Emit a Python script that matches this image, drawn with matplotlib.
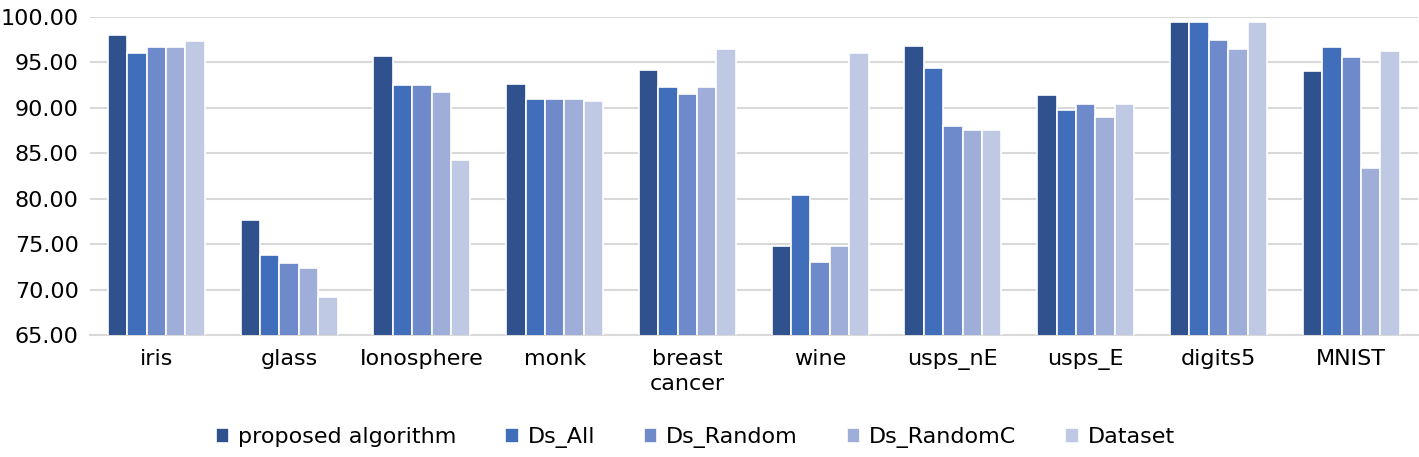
import numpy as np
import matplotlib
matplotlib.use('Agg')
import matplotlib.pyplot as plt

# datos
categorias = ['iris', 'glass', 'Ionosphere', 'monk', 'breast\ncancer', 'wine',
              'usps_nE', 'usps_E', 'digits5', 'MNIST']
series = ['proposed algorithm', 'Ds_All', 'Ds_Random', 'Ds_RandomC', 'Dataset']
propuesto  = [98.00, 77.60, 95.75, 92.64, 94.18, 74.76, 96.81, 91.43, 99.49, 94.07]
ds_all     = [96.00, 73.85, 92.56, 91.00, 92.27, 80.37, 94.40, 89.80, 99.49, 96.67]
ds_random  = [96.67, 72.90, 92.56, 91.00, 91.54, 73.04, 88.02, 90.40, 97.50, 95.64]
ds_randomc = [96.67, 72.40, 91.76, 91.00, 92.27, 74.76, 87.58, 89.00, 96.48, 83.33]
dataset    = [97.33, 69.20, 84.30, 90.77, 96.48, 96.08, 87.58, 90.40, 99.49, 96.30]

valores = [propuesto, ds_all, ds_random, ds_randomc, dataset]
colores = ['#2F528F', '#406EBA', '#6E8ACA', '#9FAED8', '#BFC9E4']

fig = plt.figure(figsize=(14.19, 4.57), dpi=100)
ax = fig.add_axes([0.0634, 0.267, 0.9356, 0.696])

x = np.arange(len(categorias))
ancho = 0.146
for i in range(len(series)):
    ax.bar(x + (i - 2) * ancho, valores[i], width=ancho, bottom=0,
           color=colores[i], edgecolor='white', linewidth=1.2,
           label=series[i], zorder=3)

ax.set_ylim(65, 100)
ax.set_xlim(-0.5, len(categorias) - 0.5)
ax.set_yticks(np.arange(65, 100.1, 5))
ax.set_yticklabels(['%.2f' % v for v in np.arange(65, 100.1, 5)], fontsize=16)
ax.set_xticks(x)
ax.set_xticklabels(categorias, fontsize=16, linespacing=1.3)
ax.tick_params(axis='both', length=0)
ax.tick_params(axis='x', pad=10)
ax.tick_params(axis='y', pad=8)
ax.grid(True, axis='y', color='#D9D9D9', linewidth=1.5, zorder=0)
for s in ['top', 'right', 'left']:
    ax.spines[s].set_visible(False)
ax.spines['bottom'].set_color('#D9D9D9')
ax.spines['bottom'].set_linewidth(1.5)

fig.legend(loc='center', bbox_to_anchor=(0.49, 0.042), ncol=5, frameon=False,
           fontsize=16, handlelength=0.6, handleheight=0.6, handletextpad=0.4,
           columnspacing=2.2)

fig.savefig('out.png', dpi=100)
